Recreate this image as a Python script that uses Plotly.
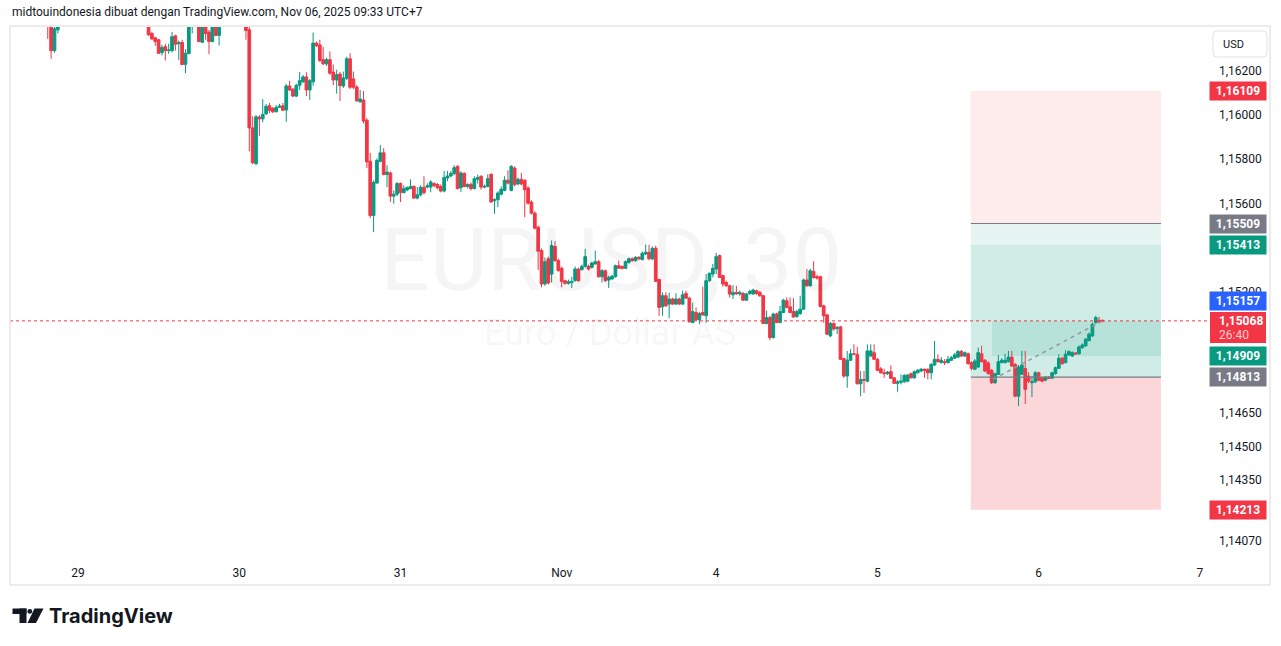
import plotly.graph_objects as go

# ---------------- data (EURUSD, 30-minute bars) ----------------
# bar number: 0 = Oct 29 00:00 (UTC+7); bars lying wholly above the visible price window are omitted
bar_index = (list(range(-9, -5)) + list(range(21, 35)) + list(range(36, 43)) + list(range(50, 306)))

bar_open = [
    1.16477, 1.16414, 1.16292, 1.16386,
    1.16423, 1.16370, 1.16350, 1.16341, 1.16283, 1.16310, 1.16292, 1.16292, 1.16359, 1.16323, 1.16329, 1.16230, 1.16279, 1.16455,
    1.16432, 1.16330, 1.16432, 1.16376, 1.16333, 1.16432, 1.16361,
    1.16423, 1.16386, 1.15942, 1.15780, 1.15991, 1.15983, 1.16006, 1.16042, 1.16031, 1.16015,
    1.16035, 1.16042, 1.16023, 1.16132, 1.16117, 1.16086, 1.16135, 1.16151, 1.16173, 1.16114,
    1.16151, 1.16326, 1.16318, 1.16251, 1.16232, 1.16251, 1.16195, 1.16159, 1.16186, 1.16132,
    1.16167, 1.16255, 1.16164, 1.16127, 1.16061, 1.16068, 1.15977, 1.15791, 1.15545, 1.15692,
    1.15791, 1.15829, 1.15731, 1.15738, 1.15633, 1.15642, 1.15690, 1.15649, 1.15661, 1.15667,
    1.15677, 1.15624, 1.15639, 1.15673, 1.15674, 1.15674, 1.15690, 1.15686, 1.15677, 1.15656,
    1.15715, 1.15724, 1.15735, 1.15768, 1.15671, 1.15736, 1.15677, 1.15686, 1.15667, 1.15709,
    1.15723, 1.15674, 1.15677, 1.15732, 1.15612, 1.15617, 1.15642, 1.15659, 1.15705, 1.15659,
    1.15760, 1.15688, 1.15709, 1.15705, 1.15670, 1.15606, 1.15556, 1.15492, 1.15387, 1.15235,
    1.15349, 1.15280, 1.15405, 1.15341, 1.15306, 1.15250, 1.15238, 1.15241, 1.15250, 1.15303,
    1.15300, 1.15315, 1.15315, 1.15311, 1.15326, 1.15336, 1.15268, 1.15295, 1.15253, 1.15258,
    1.15268, 1.15318, 1.15315, 1.15306, 1.15333, 1.15349, 1.15341, 1.15356, 1.15345, 1.15371,
    1.15379, 1.15349, 1.15397, 1.15255, 1.15132, 1.15182, 1.15144, 1.15167, 1.15144, 1.15167,
    1.15144, 1.15192, 1.15171, 1.15060, 1.15106, 1.15073, 1.15106, 1.15091, 1.15250, 1.15280,
    1.15303, 1.15364, 1.15273, 1.15242, 1.15227, 1.15186, 1.15197, 1.15190, 1.15192, 1.15162,
    1.15192, 1.15190, 1.15205, 1.15197, 1.15182, 1.15056, 1.15083, 1.14992, 1.15099, 1.15061,
    1.15106, 1.15159, 1.15132, 1.15110, 1.15088, 1.15101, 1.15121, 1.15253, 1.15227, 1.15292,
    1.15268, 1.15268, 1.15136, 1.15095, 1.15000, 1.15056, 1.15033, 1.15041, 1.14897, 1.14818,
    1.14890, 1.14919, 1.14917, 1.14783, 1.14803, 1.14795, 1.14909, 1.14924, 1.14894, 1.14851,
    1.14833, 1.14829, 1.14838, 1.14810, 1.14785, 1.14790, 1.14792, 1.14795, 1.14829, 1.14810,
    1.14833, 1.14841, 1.14849, 1.14849, 1.14833, 1.14868, 1.14894, 1.14879, 1.14883, 1.14879,
    1.14890, 1.14899, 1.14904, 1.14929, 1.14909, 1.14919, 1.14879, 1.14849, 1.14859, 1.14919,
    1.14890, 1.14877, 1.14844, 1.14788, 1.14826, 1.14879, 1.14879, 1.14883, 1.14904, 1.14871,
    1.14727, 1.14826, 1.14853, 1.14818, 1.14788, 1.14792, 1.14833, 1.14810, 1.14799, 1.14813,
    1.14808, 1.14829, 1.14853, 1.14899, 1.14879, 1.14914, 1.14909, 1.14923, 1.14919, 1.14947,
    1.14955, 1.14979, 1.15000, 1.15060, 1.15071, 1.15070,
]
bar_high = [
    1.16500, 1.16432, 1.16405, 1.16477,
    1.16441, 1.16377, 1.16355, 1.16345, 1.16318, 1.16323, 1.16323, 1.16377, 1.16364, 1.16338, 1.16341, 1.16299, 1.16455, 1.16500,
    1.16455, 1.16441, 1.16455, 1.16386, 1.16441, 1.16455, 1.16455,
    1.16455, 1.16400, 1.15995, 1.16001, 1.16000, 1.16073, 1.16050, 1.16055, 1.16036, 1.16045,
    1.16051, 1.16055, 1.16141, 1.16155, 1.16123, 1.16142, 1.16195, 1.16182, 1.16194, 1.16164,
    1.16374, 1.16333, 1.16341, 1.16309, 1.16259, 1.16288, 1.16229, 1.16205, 1.16195, 1.16197,
    1.16264, 1.16280, 1.16197, 1.16136, 1.16114, 1.16109, 1.15986, 1.15829, 1.15705, 1.15804,
    1.15864, 1.15850, 1.15773, 1.15745, 1.15659, 1.15697, 1.15695, 1.15682, 1.15677, 1.15709,
    1.15682, 1.15674, 1.15682, 1.15723, 1.15691, 1.15705, 1.15695, 1.15692, 1.15686, 1.15747,
    1.15747, 1.15747, 1.15773, 1.15773, 1.15745, 1.15741, 1.15691, 1.15695, 1.15723, 1.15730,
    1.15727, 1.15686, 1.15732, 1.15736, 1.15623, 1.15655, 1.15677, 1.15723, 1.15750, 1.15773,
    1.15768, 1.15718, 1.15738, 1.15709, 1.15677, 1.15614, 1.15564, 1.15500, 1.15396, 1.15355,
    1.15359, 1.15432, 1.15429, 1.15350, 1.15314, 1.15255, 1.15255, 1.15268, 1.15314, 1.15309,
    1.15323, 1.15394, 1.15323, 1.15336, 1.15386, 1.15344, 1.15303, 1.15300, 1.15273, 1.15277,
    1.15323, 1.15341, 1.15318, 1.15341, 1.15355, 1.15355, 1.15361, 1.15361, 1.15382, 1.15413,
    1.15412, 1.15405, 1.15409, 1.15259, 1.15197, 1.15197, 1.15195, 1.15173, 1.15193, 1.15173,
    1.15205, 1.15205, 1.15177, 1.15151, 1.15129, 1.15109, 1.15223, 1.15280, 1.15286, 1.15326,
    1.15376, 1.15368, 1.15277, 1.15250, 1.15232, 1.15230, 1.15227, 1.15205, 1.15200, 1.15195,
    1.15209, 1.15214, 1.15209, 1.15205, 1.15186, 1.15114, 1.15091, 1.15105, 1.15105, 1.15136,
    1.15168, 1.15174, 1.15174, 1.15171, 1.15118, 1.15182, 1.15259, 1.15303, 1.15305, 1.15338,
    1.15277, 1.15273, 1.15141, 1.15100, 1.15064, 1.15061, 1.15045, 1.15045, 1.14900, 1.14932,
    1.14940, 1.14962, 1.14950, 1.14841, 1.14841, 1.14962, 1.14962, 1.14962, 1.14900, 1.14859,
    1.14851, 1.14841, 1.14867, 1.14813, 1.14800, 1.14826, 1.14827, 1.14827, 1.14834, 1.14843,
    1.14850, 1.14855, 1.14852, 1.14852, 1.14877, 1.14977, 1.14917, 1.14904, 1.14895, 1.14909,
    1.14909, 1.14923, 1.14936, 1.14936, 1.14930, 1.14925, 1.14884, 1.14895, 1.14947, 1.14955,
    1.14895, 1.14886, 1.14850, 1.14833, 1.14913, 1.14900, 1.14919, 1.14932, 1.14932, 1.14877,
    1.14868, 1.14932, 1.14932, 1.14836, 1.14818, 1.14841, 1.14838, 1.14815, 1.14818, 1.14818,
    1.14838, 1.14861, 1.14917, 1.14905, 1.14935, 1.14934, 1.14930, 1.14927, 1.14957, 1.14966,
    1.14991, 1.15016, 1.15059, 1.15091, 1.15086, 1.15075,
]
bar_low = [
    1.16345, 1.16255, 1.16283, 1.16370,
    1.16359, 1.16341, 1.16314, 1.16277, 1.16270, 1.16247, 1.16277, 1.16283, 1.16292, 1.16250, 1.16227, 1.16190, 1.16275, 1.16370,
    1.16330, 1.16327, 1.16341, 1.16276, 1.16330, 1.16357, 1.16315,
    1.16341, 1.15836, 1.15777, 1.15773, 1.15906, 1.15967, 1.16000, 1.16009, 1.16009, 1.16013,
    1.16032, 1.16018, 1.15970, 1.16109, 1.16082, 1.16082, 1.16114, 1.16145, 1.16086, 1.16068,
    1.16133, 1.16309, 1.16241, 1.16227, 1.16223, 1.16182, 1.16136, 1.16097, 1.16064, 1.16123,
    1.16159, 1.16118, 1.16118, 1.16059, 1.16055, 1.15962, 1.15760, 1.15533, 1.15470, 1.15691,
    1.15786, 1.15727, 1.15674, 1.15606, 1.15599, 1.15633, 1.15606, 1.15645, 1.15655, 1.15664,
    1.15621, 1.15618, 1.15632, 1.15641, 1.15668, 1.15651, 1.15673, 1.15664, 1.15650, 1.15650,
    1.15701, 1.15718, 1.15727, 1.15664, 1.15651, 1.15673, 1.15668, 1.15659, 1.15664, 1.15690,
    1.15662, 1.15668, 1.15673, 1.15605, 1.15553, 1.15583, 1.15636, 1.15655, 1.15686, 1.15655,
    1.15677, 1.15682, 1.15682, 1.15538, 1.15595, 1.15550, 1.15482, 1.15299, 1.15220, 1.15227,
    1.15232, 1.15242, 1.15336, 1.15291, 1.15220, 1.15232, 1.15232, 1.15217, 1.15245, 1.15245,
    1.15296, 1.15309, 1.15296, 1.15305, 1.15323, 1.15264, 1.15242, 1.15245, 1.15217, 1.15255,
    1.15264, 1.15305, 1.15300, 1.15305, 1.15327, 1.15336, 1.15336, 1.15343, 1.15343, 1.15366,
    1.15343, 1.15343, 1.15246, 1.15091, 1.15091, 1.15132, 1.15080, 1.15141, 1.15141, 1.15141,
    1.15141, 1.15168, 1.15060, 1.15059, 1.15068, 1.15053, 1.15091, 1.15060, 1.15245, 1.15265,
    1.15280, 1.15264, 1.15223, 1.15223, 1.15174, 1.15167, 1.15186, 1.15182, 1.15159, 1.15159,
    1.15186, 1.15186, 1.15186, 1.15177, 1.15055, 1.15052, 1.14980, 1.14989, 1.15057, 1.15057,
    1.15105, 1.15125, 1.15102, 1.15082, 1.15082, 1.15095, 1.15118, 1.15223, 1.15223, 1.15259,
    1.15255, 1.15129, 1.15060, 1.15004, 1.14995, 1.15023, 1.15008, 1.14891, 1.14810, 1.14765,
    1.14886, 1.14913, 1.14780, 1.14727, 1.14742, 1.14790, 1.14904, 1.14891, 1.14841, 1.14830,
    1.14810, 1.14823, 1.14805, 1.14782, 1.14747, 1.14780, 1.14788, 1.14790, 1.14807, 1.14807,
    1.14830, 1.14836, 1.14810, 1.14803, 1.14803, 1.14864, 1.14880, 1.14875, 1.14868, 1.14875,
    1.14886, 1.14895, 1.14900, 1.14904, 1.14904, 1.14870, 1.14844, 1.14845, 1.14855, 1.14880,
    1.14836, 1.14825, 1.14782, 1.14782, 1.14823, 1.14875, 1.14875, 1.14880, 1.14859, 1.14723,
    1.14682, 1.14823, 1.14692, 1.14786, 1.14723, 1.14786, 1.14795, 1.14790, 1.14795, 1.14805,
    1.14805, 1.14825, 1.14850, 1.14870, 1.14875, 1.14909, 1.14904, 1.14914, 1.14915, 1.14941,
    1.14950, 1.14975, 1.14995, 1.15055, 1.15056, 1.15062,
]
bar_close = [
    1.16414, 1.16292, 1.16391, 1.16423,
    1.16364, 1.16345, 1.16333, 1.16280, 1.16306, 1.16292, 1.16295, 1.16355, 1.16321, 1.16329, 1.16229, 1.16280, 1.16432, 1.16477,
    1.16333, 1.16423, 1.16370, 1.16333, 1.16423, 1.16361, 1.16423,
    1.16383, 1.15942, 1.15785, 1.15992, 1.15983, 1.16003, 1.16040, 1.16022, 1.16015, 1.16035,
    1.16041, 1.16022, 1.16132, 1.16114, 1.16086, 1.16135, 1.16156, 1.16173, 1.16114, 1.16156,
    1.16326, 1.16314, 1.16247, 1.16232, 1.16251, 1.16190, 1.16159, 1.16183, 1.16133, 1.16168,
    1.16255, 1.16126, 1.16126, 1.16065, 1.16073, 1.15973, 1.15788, 1.15545, 1.15695, 1.15795,
    1.15829, 1.15731, 1.15742, 1.15633, 1.15642, 1.15690, 1.15649, 1.15667, 1.15672, 1.15677,
    1.15624, 1.15639, 1.15673, 1.15649, 1.15680, 1.15697, 1.15681, 1.15671, 1.15656, 1.15717,
    1.15724, 1.15736, 1.15762, 1.15667, 1.15738, 1.15677, 1.15686, 1.15667, 1.15712, 1.15717,
    1.15674, 1.15677, 1.15712, 1.15606, 1.15617, 1.15647, 1.15664, 1.15705, 1.15692, 1.15768,
    1.15685, 1.15709, 1.15688, 1.15662, 1.15601, 1.15556, 1.15488, 1.15383, 1.15235, 1.15336,
    1.15240, 1.15409, 1.15341, 1.15296, 1.15247, 1.15238, 1.15245, 1.15245, 1.15303, 1.15250,
    1.15315, 1.15359, 1.15303, 1.15330, 1.15336, 1.15268, 1.15295, 1.15250, 1.15265, 1.15270,
    1.15318, 1.15306, 1.15306, 1.15336, 1.15349, 1.15341, 1.15356, 1.15349, 1.15374, 1.15379,
    1.15349, 1.15397, 1.15247, 1.15129, 1.15182, 1.15136, 1.15167, 1.15144, 1.15167, 1.15144,
    1.15186, 1.15171, 1.15064, 1.15110, 1.15073, 1.15101, 1.15095, 1.15250, 1.15284, 1.15306,
    1.15359, 1.15265, 1.15235, 1.15227, 1.15190, 1.15197, 1.15191, 1.15197, 1.15162, 1.15190,
    1.15201, 1.15208, 1.15192, 1.15182, 1.15056, 1.15083, 1.14992, 1.15099, 1.15061, 1.15110,
    1.15162, 1.15129, 1.15106, 1.15086, 1.15110, 1.15121, 1.15253, 1.15227, 1.15295, 1.15265,
    1.15262, 1.15133, 1.15091, 1.15008, 1.15056, 1.15031, 1.15038, 1.14894, 1.14818, 1.14890,
    1.14919, 1.14917, 1.14783, 1.14803, 1.14799, 1.14932, 1.14932, 1.14894, 1.14844, 1.14833,
    1.14829, 1.14836, 1.14808, 1.14785, 1.14792, 1.14795, 1.14821, 1.14823, 1.14810, 1.14838,
    1.14844, 1.14849, 1.14844, 1.14833, 1.14871, 1.14894, 1.14883, 1.14890, 1.14879, 1.14894,
    1.14901, 1.14914, 1.14929, 1.14909, 1.14924, 1.14874, 1.14853, 1.14886, 1.14924, 1.14883,
    1.14841, 1.14829, 1.14788, 1.14829, 1.14883, 1.14890, 1.14890, 1.14904, 1.14864, 1.14727,
    1.14859, 1.14868, 1.14758, 1.14795, 1.14792, 1.14833, 1.14799, 1.14795, 1.14813, 1.14808,
    1.14833, 1.14856, 1.14899, 1.14874, 1.14917, 1.14929, 1.14924, 1.14918, 1.14950, 1.14959,
    1.14985, 1.15008, 1.15053, 1.15083, 1.15065, 1.15068,
]

day_tick_bars = [0, 48, 96, 144, 190, 238, 286, 334]
day_tick_labels = ["29", "30", "31", "Nov", "4", "5", "6", "7"]

price_tick_values = [1.16200, 1.16000, 1.15800, 1.15600, 1.15200, 1.14650, 1.14500, 1.14350, 1.14070]
price_tick_labels = ["1,16200", "1,16000", "1,15800", "1,15600", "1,15200", "1,14650", "1,14500", "1,14350", "1,14070"]

# position drawing tools
pos_start_bar, pos_end_bar, pos_fill_bar = 265.8, 322.4, 272.1
short_stop, short_entry, short_target = 1.16109, 1.15509, 1.14909
long_target, long_entry, long_stop = 1.15413, 1.14813, 1.14213
last_price = 1.15068
bar_countdown = "26:40"
alert_price = 1.15157
trend_bars = [272.4, 305]
trend_prices = [1.14803, 1.15068]

# ---------------- layout geometry ----------------
W, H = 1281, 646
PL, PR, PT, PB = 10, 1208, 27, 562
X_RANGE = [-20.24, 336.41]
Y_RANGE = [1.13976, 1.16399]
FONT = "Roboto"
TXT = "#131722"
GREEN, RED, GREY, BLUE = "#089981", "#f23645", "#787b86", "#2962ff"


def px(x):
    return (x - PL) / (PR - PL)


def py(y):
    return (PB - y) / (PB - PT)


def data_x(x):
    return X_RANGE[0] + px(x) * (X_RANGE[1] - X_RANGE[0])


def data_y(y):
    return Y_RANGE[0] + py(y) * (Y_RANGE[1] - Y_RANGE[0])


def fmt(v):
    return f"{v:.5f}".replace(".", ",")


fig = go.Figure()

# watermark (under candles)
fig.add_trace(go.Scatter(
    x=[data_x(611), data_x(610)], y=[data_y(268), data_y(336)],
    mode="text", text=["EURUSD, 30", "Euro / Dollar AS"],
    textfont=dict(family=FONT, size=[88, 36], color="rgba(19,23,34,0.045)"),
    textposition="middle center", hoverinfo="skip", showlegend=False, cliponaxis=False,
))

fig.add_trace(go.Candlestick(
    x=bar_index, open=bar_open, high=bar_high, low=bar_low, close=bar_close,
    increasing=dict(line=dict(color=GREEN, width=1), fillcolor=GREEN),
    decreasing=dict(line=dict(color=RED, width=1), fillcolor=RED),
    whiskerwidth=0, showlegend=False, hoverinfo="skip",
))

fig.add_trace(go.Scatter(
    x=trend_bars, y=trend_prices, mode="lines",
    line=dict(color="#9598a1", width=1.5, dash="4px,4px"),
    hoverinfo="skip", showlegend=False,
))

shapes = []


def zone(x0, x1, y0, y1, color):
    shapes.append(dict(type="rect", xref="x", yref="y", x0=x0, x1=x1, y0=y0, y1=y1,
                       fillcolor=color, line=dict(width=0), layer="below"))


zone(pos_start_bar, pos_end_bar, short_entry, short_stop, "rgba(242,54,69,0.10)")
zone(pos_start_bar, pos_end_bar, long_entry, short_entry, "rgba(8,153,129,0.10)")
zone(pos_start_bar, pos_end_bar, long_entry, long_target, "rgba(8,153,129,0.10)")
zone(pos_start_bar, pos_end_bar, long_stop, long_entry, "rgba(242,54,69,0.20)")
zone(pos_fill_bar, pos_end_bar, short_target, last_price, "rgba(8,153,129,0.12)")

for lvl in (short_entry, long_entry):
    shapes.append(dict(type="line", xref="x", yref="y", x0=pos_start_bar, x1=pos_end_bar,
                       y0=lvl, y1=lvl, line=dict(color=GREY, width=1.2)))

# last price dotted line
shapes.append(dict(type="line", xref="paper", yref="y", x0=0, x1=1.0, y0=last_price, y1=last_price,
                   line=dict(color=RED, width=1, dash="dot")))

# chart frame
shapes.append(dict(type="rect", xref="paper", yref="paper", x0=px(10), x1=px(1270), y0=py(585), y1=py(26),
                   line=dict(color="#e6e6e8", width=1.5), fillcolor="rgba(0,0,0,0)"))

# USD box (rounded)
ux0, ux1, uy0, uy1, r = 1213, 1267, 31, 57, 4
usd_path = (f"M {px(ux0+r)} {py(uy0)} L {px(ux1-r)} {py(uy0)} Q {px(ux1)} {py(uy0)} {px(ux1)} {py(uy0+r)} "
            f"L {px(ux1)} {py(uy1-r)} Q {px(ux1)} {py(uy1)} {px(ux1-r)} {py(uy1)} "
            f"L {px(ux0+r)} {py(uy1)} Q {px(ux0)} {py(uy1)} {px(ux0)} {py(uy1-r)} "
            f"L {px(ux0)} {py(uy0+r)} Q {px(ux0)} {py(uy0)} {px(ux0+r)} {py(uy0)} Z")
shapes.append(dict(type="path", xref="paper", yref="paper", path=usd_path,
                   line=dict(color="#e0e3eb", width=1), fillcolor="white"))

# last-price label box (price + bar countdown)
shapes.append(dict(type="rect", xref="paper", yref="paper", x0=px(1210), x1=px(1266), y0=py(343), y1=py(312),
                   fillcolor=RED, line=dict(width=0)))


# TradingView logo mark
def rect_px(x0, y0, x1, y1):
    shapes.append(dict(type="rect", xref="paper", yref="paper", x0=px(x0), x1=px(x1), y0=py(y1), y1=py(y0),
                       fillcolor="#131722", line=dict(width=0)))


rect_px(12.5, 608.5, 26.5, 614)
rect_px(19.5, 608.5, 26.5, 623)
shapes.append(dict(type="circle", xref="paper", yref="paper", x0=px(27.4), x1=px(32.2), y0=py(613.8), y1=py(609),
                   fillcolor="#131722", line=dict(width=0)))
shapes.append(dict(type="path", xref="paper", yref="paper",
                   path=f"M {px(34.5)} {py(608.5)} L {px(43.5)} {py(608.5)} L {px(36)} {py(623)} L {px(27.5)} {py(623)} Z",
                   fillcolor="#131722", line=dict(width=0)))

annotations = []
annotations.append(dict(xref="paper", yref="paper", x=px(10), y=py(12.5), xanchor="left", yanchor="middle",
                        text="midtouindonesia dibuat dengan TradingView.com, Nov 06, 2025 09:33 UTC+7",
                        showarrow=False, font=dict(family=FONT, size=12, color=TXT)))
annotations.append(dict(xref="paper", yref="paper", x=px(47), y=py(615.5), xanchor="left", yanchor="middle",
                        text="<b>TradingView</b>", showarrow=False,
                        font=dict(family="Inter", size=20, color="#131722")))
annotations.append(dict(xref="paper", yref="paper", x=px(1233), y=py(44.5), xanchor="center", yanchor="middle",
                        text="USD", showarrow=False, font=dict(family=FONT, size=11, color=TXT)))

label_values = [short_stop, short_entry, long_target, alert_price, short_target, long_entry, long_stop]
label_colors = [RED, GREY, GREEN, BLUE, GREEN, GREY, RED]
for v, c in zip(label_values, label_colors):
    annotations.append(dict(xref="paper", yref="y", x=px(1238), y=v, xanchor="center", yanchor="middle",
                            text=f"<b>{fmt(v)}</b>", showarrow=False, bgcolor=c,
                            width=52, height=14, borderpad=2,
                            font=dict(family=FONT, size=12, color="white")))
annotations.append(dict(xref="paper", yref="y", x=px(1217), y=last_price, xanchor="left", yanchor="middle",
                        text=f"<b>{fmt(last_price)}</b>", showarrow=False,
                        font=dict(family=FONT, size=12, color="white")))
annotations.append(dict(xref="paper", yref="paper", x=px(1217), y=py(334.5), xanchor="left", yanchor="middle",
                        text=bar_countdown, showarrow=False,
                        font=dict(family=FONT, size=12, color="rgba(255,255,255,0.75)")))

fig.update_layout(
    width=W, height=H, autosize=False,
    margin=dict(l=PL, r=W - PR, t=PT, b=H - PB),
    paper_bgcolor="white", plot_bgcolor="white",
    showlegend=False, hovermode=False,
    boxgap=0.2, boxgroupgap=0,
    shapes=shapes, annotations=annotations,
    xaxis=dict(range=X_RANGE, showgrid=False, zeroline=False, showline=False,
               tickmode="array", tickvals=day_tick_bars, ticktext=day_tick_labels,
               ticks="", ticklabelstandoff=2, tickfont=dict(family=FONT, size=12, color=TXT),
               rangeslider=dict(visible=False), fixedrange=True),
    yaxis=dict(range=Y_RANGE, side="right", showgrid=False, zeroline=False, showline=False,
               tickmode="array", tickvals=price_tick_values, ticktext=price_tick_labels,
               ticks="", ticklabelstandoff=10, tickfont=dict(family=FONT, size=12, color=TXT),
               fixedrange=True),
)

fig.write_html("out.html", config={"displayModeBar": False},
               post_script="document.body.style.margin='0px'; document.body.style.overflow='hidden';")
